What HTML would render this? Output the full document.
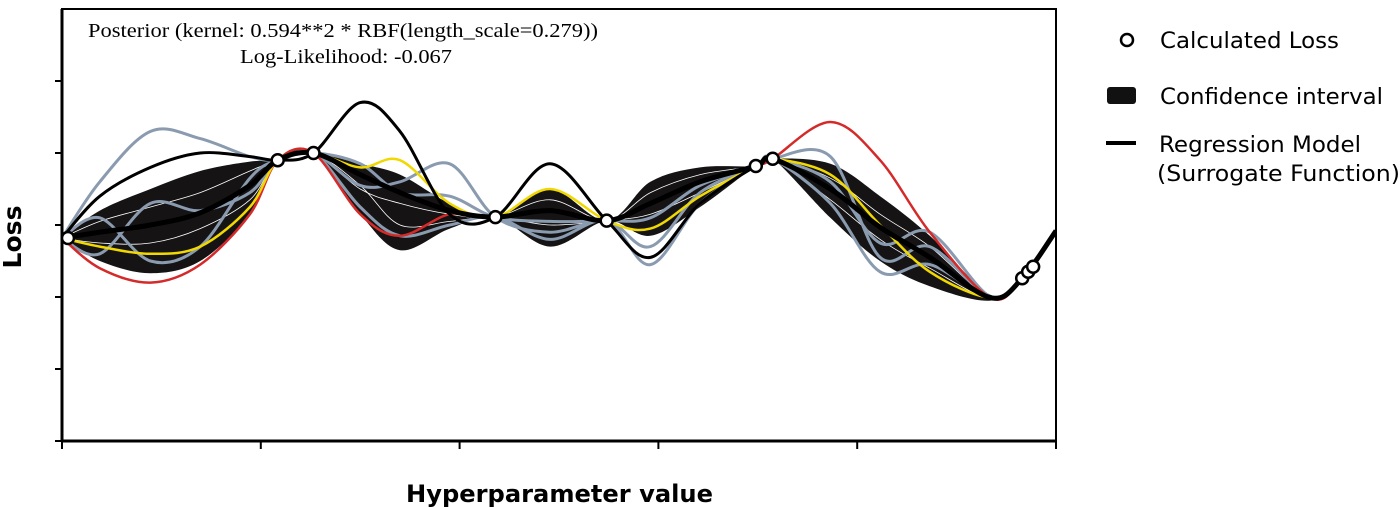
<!DOCTYPE html>
<html><head><meta charset="utf-8"><style>
html,body{margin:0;padding:0;background:#fff;}
svg{display:block;}
</style></head><body>
<svg id="chart" width="1400" height="507" viewBox="0 0 1400 507" xmlns="http://www.w3.org/2000/svg">
<defs><clipPath id="clip"><rect x="62" y="9" width="994" height="432"/></clipPath></defs>
<g id="plot" clip-path="url(#clip)"></g>
<rect x="62" y="9" width="994" height="432" fill="none" stroke="#000" stroke-width="2"/>
<line x1="62" y1="9" x2="62" y2="441" stroke="#000" stroke-width="3"/>
<line x1="62" y1="441" x2="1056" y2="441" stroke="#000" stroke-width="3"/>
<g id="ticks"></g>
<text x="88" y="37" font-family="Liberation Serif, serif" font-size="20" textLength="510" lengthAdjust="spacingAndGlyphs">Posterior (kernel: 0.594**2 * RBF(length_scale=0.279))</text>
<text x="240" y="63" font-family="Liberation Serif, serif" font-size="20" textLength="212" lengthAdjust="spacingAndGlyphs">Log-Likelihood: -0.067</text>
<text transform="translate(21,237) rotate(-90)" text-anchor="middle" font-family="DejaVu Sans, sans-serif" font-weight="bold" font-size="25" textLength="63" lengthAdjust="spacingAndGlyphs">Loss</text>
<text x="406" y="502" font-family="DejaVu Sans, sans-serif" font-weight="bold" font-size="24" textLength="307" lengthAdjust="spacingAndGlyphs">Hyperparameter value</text>
<g font-family="DejaVu Sans, sans-serif" font-size="22">
<g><circle cx="1127" cy="40" r="6" fill="#fff" stroke="#000" stroke-width="2.5"/><text x="1160" y="48" textLength="179" lengthAdjust="spacingAndGlyphs">Calculated Loss</text></g>
<g><rect x="1107" y="87" width="29" height="17" rx="3" fill="#111"/><text x="1160" y="104" textLength="223" lengthAdjust="spacingAndGlyphs">Confidence interval</text></g>
<g><line x1="1106" y1="143" x2="1136" y2="143" stroke="#000" stroke-width="4"/><text x="1159" y="152" textLength="202" lengthAdjust="spacingAndGlyphs">Regression Model</text><text x="1157" y="181" textLength="243" lengthAdjust="spacingAndGlyphs">(Surrogate Function)</text></g>
</g>
</svg>
<script>
// knot positions (hyperparameter value, 0..1)
const knotsX=[0.0,0.038,0.089,0.139,0.189,0.217,0.253,0.300,0.340,0.390,0.436,0.491,0.548,0.592,0.642,0.698,0.715,0.773,0.823,0.873,0.934,0.966,1.0];
// loss values at knots
const meanLoss=[2.82,2.9,3.0,3.17,3.55,3.90,4.0,3.7,3.45,3.2,3.11,3.2,3.06,3.3,3.6,3.82,3.92,3.5,2.97,2.55,1.99,2.26,2.92];
const upperLoss=[2.82,3.2,3.5,3.75,3.88,3.90,4.0,3.85,3.7,3.3,3.11,3.5,3.06,3.6,3.8,3.82,3.92,3.85,3.4,2.85,2.03,2.26,2.92];
const lowerLoss=[2.82,2.5,2.33,2.5,3.15,3.90,4.0,3.15,2.65,2.95,3.11,2.7,3.06,2.85,3.25,3.82,3.92,3.1,2.5,2.15,1.95,2.26,2.92];
const redLoss=[2.82,2.4,2.2,2.45,3.15,3.90,4.0,3.15,2.85,3.15,3.11,3.2,3.06,3.3,3.6,3.82,3.92,4.43,3.9,2.9,1.99,2.26,2.92];
const blackLoss=[2.82,3.4,3.8,4.0,3.95,3.90,4.0,4.7,4.3,3.15,3.11,3.85,3.06,2.55,3.3,3.82,3.92,3.5,2.97,2.55,1.99,2.26,2.92];
const yellowLoss=[2.82,2.7,2.6,2.7,3.25,3.90,4.0,3.8,3.9,3.3,3.11,3.5,3.06,2.95,3.4,3.82,3.92,3.7,3.0,2.35,1.99,2.26,2.92];
const grayALoss=[2.82,3.6,4.3,4.2,3.95,3.90,4.0,3.25,2.85,3.0,3.11,2.8,3.06,2.45,3.3,3.82,3.92,3.3,2.35,2.45,1.99,2.26,2.92];
const grayBLoss=[2.82,2.6,3.3,3.2,3.45,3.90,4.0,3.55,3.6,3.85,3.11,2.9,3.06,2.7,3.45,3.82,3.92,3.95,2.55,2.7,1.99,2.26,2.92];
const grayCLoss=[2.82,3.1,2.5,2.7,3.65,3.90,4.0,3.85,3.45,3.4,3.11,3.05,3.06,3.1,3.55,3.82,3.92,3.6,2.75,2.9,2.0,2.26,2.92];
const whiteALoss=[2.82,3.05,3.25,3.45,3.75,3.90,4.0,3.5,3.3,3.15,3.11,3.35,3.06,3.45,3.7,3.82,3.92,3.65,3.15,2.7,2.0,2.26,2.92];
const whiteBLoss=[2.82,2.75,2.75,2.95,3.35,3.90,4.0,3.55,3.0,3.05,3.11,3.0,3.06,3.15,3.45,3.82,3.92,3.35,2.8,2.4,1.98,2.26,2.92];
// calculated loss observations
const obsX=[0.006,0.217,0.253,0.436,0.548,0.698,0.715,0.966,0.972,0.977];
const obsY=[2.82,3.90,4.0,3.11,3.06,3.82,3.92,2.26,2.35,2.42];
const xTicks=[0,0.2,0.4,0.6,0.8,1.0];
const yTicks=[0,1,2,3,4,5];

const X0=62,X1=1056,Y0=441,PY=72;
const sx=v=>X0+v*(X1-X0);
const sy=v=>Y0-v*PY;
const NS='http://www.w3.org/2000/svg';
function pts(arr){return knotsX.map((x,i)=>[sx(x),sy(arr[i])]);}
function curve(p,move){
  let d=(move?'M':'L')+p[0][0].toFixed(1)+','+p[0][1].toFixed(1);
  for(let i=0;i<p.length-1;i++){
    const a=p[Math.max(i-1,0)],b=p[i],c=p[i+1],e=p[Math.min(i+2,p.length-1)];
    const c1=[b[0]+(c[0]-a[0])/6,b[1]+(c[1]-a[1])/6],c2=[c[0]-(e[0]-b[0])/6,c[1]-(e[1]-b[1])/6];
    d+='C'+c1[0].toFixed(1)+','+c1[1].toFixed(1)+' '+c2[0].toFixed(1)+','+c2[1].toFixed(1)+' '+c[0].toFixed(1)+','+c[1].toFixed(1);
  }
  return d;
}
const plot=document.getElementById('plot');
const band=document.createElementNS(NS,'path');
band.setAttribute('d',curve(pts(upperLoss),true)+curve(pts(lowerLoss).reverse(),false)+'Z');
band.setAttribute('fill','#151313');


plot.appendChild(band);
function line(arr,color,w,name){
  const p=document.createElementNS(NS,'path');
  p.setAttribute('d',curve(pts(arr),true));
  p.setAttribute('fill','none');p.setAttribute('stroke',color);p.setAttribute('stroke-width',w);
  
  
  plot.appendChild(p);
}
line(whiteALoss,'#fff',0.8,'sample-white-a');
line(whiteBLoss,'#fff',0.8,'sample-white-b');
line(grayALoss,'#8a9bb0',3,'sample-gray-a');
line(grayBLoss,'#8a9bb0',3,'sample-gray-b');
line(grayCLoss,'#8a9bb0',3,'sample-gray-c');
line(redLoss,'#d42a2a',2.5,'sample-red');
line(yellowLoss,'#f0d800',2.5,'sample-yellow');
line(blackLoss,'#000',3,'sample-black');
line(meanLoss,'#000',5,'regression-mean');
obsX.forEach((x,i)=>{
  const c=document.createElementNS(NS,'circle');
  c.setAttribute('cx',sx(x));c.setAttribute('cy',sy(obsY[i]));c.setAttribute('r',6);
  c.setAttribute('fill','#fff');c.setAttribute('stroke','#000');c.setAttribute('stroke-width',2.5);
  
  
  document.getElementById('chart').appendChild(c);
});
const tg=document.getElementById('ticks');
xTicks.forEach(t=>{
  const l=document.createElementNS(NS,'line');
  l.setAttribute('x1',sx(t));l.setAttribute('x2',sx(t));l.setAttribute('y1',441);l.setAttribute('y2',449);
  l.setAttribute('stroke','#000');l.setAttribute('stroke-width',2);
  
  
  tg.appendChild(l);
});
yTicks.forEach(t=>{
  const l=document.createElementNS(NS,'line');
  l.setAttribute('x1',55);l.setAttribute('x2',62);l.setAttribute('y1',sy(t));l.setAttribute('y2',sy(t));
  l.setAttribute('stroke','#000');l.setAttribute('stroke-width',2);
  
  
  tg.appendChild(l);
});
</script>
</body></html>
